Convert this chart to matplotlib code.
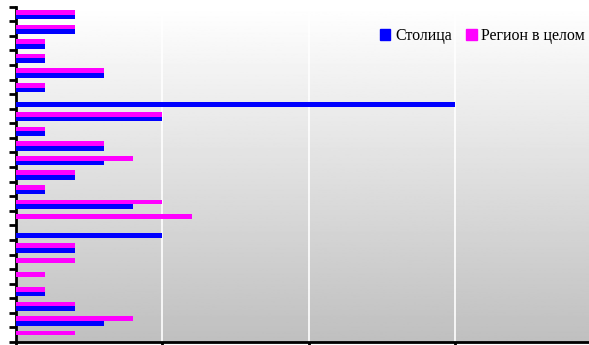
import numpy as np
import matplotlib.pyplot as plt
from matplotlib.patches import Patch

# values, top row first
stolitsa = [2, 2, 1, 1, 3, 1, 15, 5, 1, 3, 3, 2, 1, 4, 0, 5, 2, 0, 0, 1, 2, 3, 0]
region = [2, 2, 1, 1, 3, 1, 0, 5, 1, 3, 4, 2, 1, 5, 6, 0, 2, 2, 1, 1, 2, 4, 2]
series_names = ['Столица', 'Регион в целом']
colors = ['#0000ff', '#ff00ff']

n = len(stolitsa)
y = np.arange(n)[::-1]
h = 0.32

fig = plt.figure(figsize=(5.89, 3.45), dpi=100)
ax = fig.add_axes([16/589, 3/345, 1 - 16/589, (342 - 6.7)/345])

xmax = 19.56
# grey gradient background in the plot area
grad = np.linspace(1.0, 0.75, 256).reshape(-1, 1)
ax.imshow(grad, cmap='gray', vmin=0, vmax=1, aspect='auto',
          extent=[0, xmax, -0.5, n - 0.5], zorder=0)

ax.barh(y - h/2 - 0.05, stolitsa, height=h, color=colors[0], zorder=3)
ax.barh(y + h/2 - 0.05, region, height=h, color=colors[1], zorder=3)

ax.set_xlim(0, xmax)
ax.set_ylim(-0.5, n - 0.5)
ax.set_xticks([0, 5, 10, 15])
ax.set_xticklabels([])
ax.set_yticks(np.arange(n + 1) - 0.5)
ax.set_yticklabels([])
for xv in [5, 10, 15]:
    ax.axvline(xv, color='white', lw=1.2, zorder=1)

ax.tick_params(axis='y', length=5, width=2, direction='out', color='black')
ax.tick_params(axis='x', length=4, width=2, direction='out', color='black')
for s in ['top', 'right']:
    ax.spines[s].set_visible(False)
ax.spines['left'].set_linewidth(2)
ax.spines['bottom'].set_linewidth(2)

handles = [Patch(color=colors[0]), Patch(color=colors[1])]
fig.legend(handles, series_names, loc='center right', bbox_to_anchor=(1.018, 1 - 36/345),
           frameon=False, ncol=2, handlelength=0.65, handleheight=0.65, handletextpad=0.3,
           columnspacing=0.9, prop={'family': 'Liberation Serif', 'size': 11.5})

fig.savefig('out.png', dpi=100)
